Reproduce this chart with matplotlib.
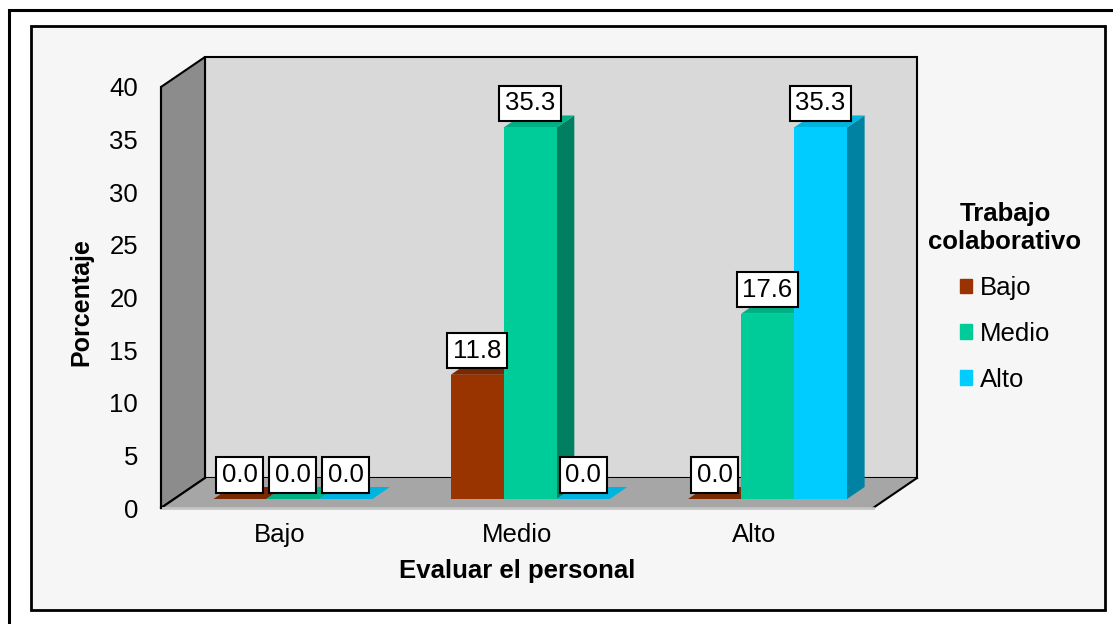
import matplotlib.pyplot as plt
from matplotlib.patches import Polygon, Patch, Rectangle

plt.rcParams['font.family'] = ['Liberation Sans', 'DejaVu Sans']

# data
categories = ['Bajo', 'Medio', 'Alto']
series_names = ['Bajo', 'Medio', 'Alto']
bajo = [0.0, 11.8, 0.0]
medio = [0.0, 35.3, 17.6]
alto = [0.0, 0.0, 35.3]
y_ticks = [0, 5, 10, 15, 20, 25, 30, 35, 40]

front_colors = ['#993300', '#00cc99', '#00ccff']
top_colors = ['#7a2900', '#00b085', '#00b4e0']
side_colors = ['#6b2400', '#008061', '#0082a3']

fig = plt.figure(figsize=(11.13, 6.24), dpi=100)
W, H = 1113, 624

# frames
fig.patches.append(Rectangle((9 / W, -0.05), 1.1, 1.05 - 10 / H, transform=fig.transFigure,
                             fill=False, ec='black', lw=2.2, zorder=-2))
fig.patches.append(Rectangle((31 / W, 1 - 610 / H), (1105 - 31) / W, (610 - 26) / H,
                             transform=fig.transFigure, fc='#f6f6f6', ec='black', lw=2, zorder=-1))

ax = fig.add_axes([161 / W, 1 - 508 / H, 712 / W, 421 / H])
ax.set_xlim(0, 3)
ax.set_ylim(0, 40)
ax.patch.set_visible(False)
for s in ax.spines.values():
    s.set_visible(False)

# depth of the 3d box in data units
DX = 44 / 712 * 3
DY = 30 / 421 * 40
ymax = 40

# back wall, side wall, floor
ax.add_patch(Polygon([(DX, DY), (3 + DX, DY), (3 + DX, ymax + DY), (DX, ymax + DY)],
                     closed=True, fc='#d9d9d9', ec='black', lw=1.5, clip_on=False, zorder=0.5))
ax.add_patch(Polygon([(0, 0), (DX, DY), (DX, ymax + DY), (0, ymax)],
                     closed=True, fc='#8c8c8c', ec='black', lw=1.5, clip_on=False, zorder=0.6))
ax.add_patch(Polygon([(0, 0), (3, 0), (3 + DX, DY), (DX, DY)],
                     closed=True, fc='#a6a6a6', ec='none', clip_on=False, zorder=0.7))
ax.plot([0, DX], [0, DY], color='black', lw=1.5, clip_on=False, zorder=0.8)
ax.plot([3, 3 + DX], [0, DY], color='black', lw=1.5, clip_on=False, zorder=0.8)
ax.plot([0, 3], [0, 0], color='#c4c4c4', lw=2, clip_on=False, zorder=0.8)
ax.plot([0, 0], [0, ymax], color='black', lw=1.5, clip_on=False, zorder=0.8)

# bars
bw = 53 / 712 * 3
f0, f1 = 0.3, 0.7
ddx, ddy = (f1 - f0) * DX, (f1 - f0) * DY
base = f0 * DY
z = 1
for i, cat in enumerate(categories):
    for k, vals in enumerate([bajo, medio, alto]):
        v = vals[i]
        xc = i + 0.5 + (k - 1) * bw + f0 * DX
        xl, xr = xc - bw / 2, xc + bw / 2
        top = base + v
        ax.add_patch(Polygon([(xr, base), (xr + ddx, base + ddy), (xr + ddx, top + ddy), (xr, top)],
                             closed=True, fc=side_colors[k], ec='none', zorder=z))
        ax.add_patch(Polygon([(xl, top), (xr, top), (xr + ddx, top + ddy), (xl + ddx, top + ddy)],
                             closed=True, fc=top_colors[k], ec='none', zorder=z))
        ax.bar(xc, v, width=bw, bottom=base, color=front_colors[k], zorder=z + 0.5)
        z += 1
        ax.annotate(f'{v:.1f}', xy=(xc, top), xytext=(0, 24), textcoords='offset pixels',
                    ha='center', va='center', fontsize=18.5, zorder=50,
                    bbox=dict(boxstyle='square,pad=0.22', fc='white', ec='black', lw=1.5))

ax.set_xticks([i + 0.5 for i in range(len(categories))])
ax.set_xticklabels(categories, fontsize=18.5)
ax.set_yticks(y_ticks)
ax.set_yticklabels([str(t) for t in y_ticks], fontsize=18.5)
ax.tick_params(axis='x', length=0, pad=11)
ax.tick_params(axis='y', length=0, pad=16.5)

ax.set_ylabel('Porcentaje', fontsize=18, fontweight='bold')
ax.yaxis.set_label_coords(-0.0955, 0.489)
ax.set_xlabel('Evaluar el personal', fontsize=18.5, fontweight='bold')
ax.xaxis.set_label_coords(0.5, -0.122)

handles = [Patch(color=c) for c in front_colors]
leg = fig.legend(handles, series_names, loc='center', bbox_to_anchor=(1005 / W, 1 - 297 / H),
                 frameon=False, fontsize=18.5, title='Trabajo\ncolaborativo',
                 title_fontproperties={'weight': 'bold', 'size': 18.5},
                 handlelength=0.5, handleheight=0.5, handletextpad=0.3, labelspacing=0.85)
leg.get_title().set_multialignment('center')

fig.savefig('out.png', dpi=100)
